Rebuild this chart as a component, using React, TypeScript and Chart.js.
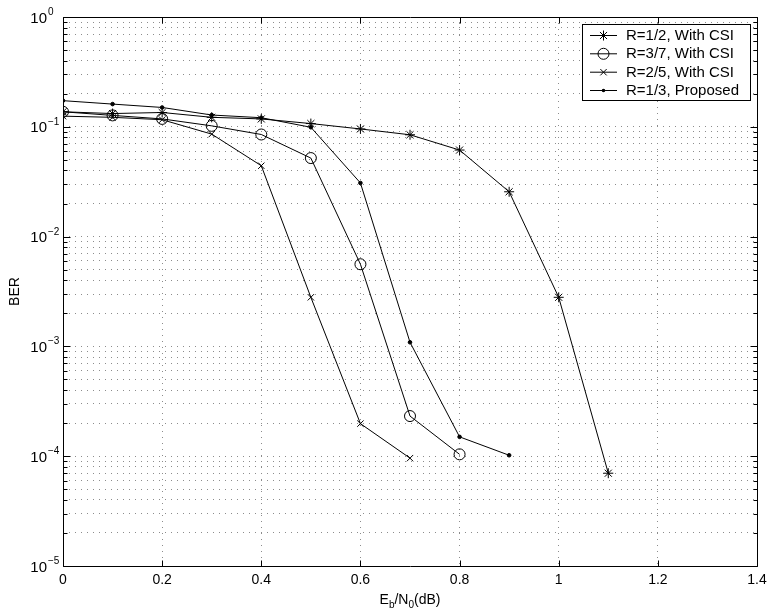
import React, { useEffect, useRef } from 'react';
import { Chart, registerables } from 'chart.js';

Chart.register(...registerables);

// ---- data ----
const snrR12 = [0, 0.1, 0.2, 0.3, 0.4, 0.5, 0.6, 0.7, 0.8, 0.9, 1.0, 1.1];
const berR12 = [0.137, 0.132, 0.135, 0.122, 0.118, 0.107, 0.0956, 0.0846, 0.0614, 0.0256, 0.0028, 0.00007];

const snrR37 = [0, 0.1, 0.2, 0.3, 0.4, 0.5, 0.6, 0.7, 0.8];
const berR37 = [0.137, 0.127, 0.118, 0.102, 0.0851, 0.0519, 0.0056, 0.000232, 0.000104];

const snrR25 = [0, 0.1, 0.2, 0.3, 0.4, 0.5, 0.6, 0.7];
const berR25 = [0.125, 0.122, 0.116, 0.0858, 0.0442, 0.0028, 0.000198, 0.000096];

const snrProp = [0, 0.1, 0.2, 0.3, 0.4, 0.5, 0.6, 0.7, 0.8, 0.9];
const berProp = [0.173, 0.161, 0.15, 0.128, 0.121, 0.099, 0.0308, 0.00109, 0.00015, 0.000102];

const xTickValues = [0, 0.2, 0.4, 0.6, 0.8, 1, 1.2, 1.4];
const xTickLabels = ['0', '0.2', '0.4', '0.6', '0.8', '1', '1.2', '1.4'];
const yDecades = [-5, -4, -3, -2, -1, 0];
const legendLabels = ['R=1/2, With CSI', 'R=3/7, With CSI', 'R=2/5, With CSI', 'R=1/3, Proposed'];
const legendStyles = ['star', 'circle', 'crossRot', 'dot'];
const yTitle = 'BER';

const FONT = "'Liberation Sans', Arial, Helvetica, sans-serif";

function yTickValues(): number[] {
  const out: number[] = [];
  for (const e of yDecades) {
    for (let m = 1; m <= 9; m++) {
      if (e === 0 && m > 1) break;
      out.push(m * Math.pow(10, e));
    }
  }
  return out;
}

function drawMarker(ctx: CanvasRenderingContext2D, style: string, x: number, y: number) {
  ctx.beginPath();
  if (style === 'star') {
    const r = 5;
    const d = r * Math.SQRT1_2;
    ctx.moveTo(x - r, y); ctx.lineTo(x + r, y);
    ctx.moveTo(x, y - r); ctx.lineTo(x, y + r);
    ctx.moveTo(x - d, y - d); ctx.lineTo(x + d, y + d);
    ctx.moveTo(x - d, y + d); ctx.lineTo(x + d, y - d);
    ctx.stroke();
  } else if (style === 'circle') {
    ctx.arc(x, y, 5.5, 0, Math.PI * 2);
    ctx.stroke();
  } else if (style === 'crossRot') {
    const d = 4.5 * Math.SQRT1_2;
    ctx.moveTo(x - d, y - d); ctx.lineTo(x + d, y + d);
    ctx.moveTo(x - d, y + d); ctx.lineTo(x + d, y - d);
    ctx.stroke();
  } else {
    ctx.arc(x, y, 1.8, 0, Math.PI * 2);
    ctx.fill();
  }
}

const matlabPlugin = {
  id: 'matlabFrame',
  afterDraw(chart: any) {
    const ctx: CanvasRenderingContext2D = chart.ctx;
    const { left, right, top, bottom } = chart.chartArea;
    const xs = chart.scales.x;
    const ys = chart.scales.y;
    ctx.save();
    ctx.strokeStyle = '#000';
    ctx.fillStyle = '#000';
    ctx.lineWidth = 1;

    // box
    const L = left + 0.5, R = right + 0.5, T = top + 0.5, B = bottom + 0.5;
    ctx.beginPath();
    ctx.rect(L, T, R - L, B - T);
    ctx.stroke();

    // inward ticks
    ctx.beginPath();
    for (const v of xTickValues) {
      const px = Math.round(xs.getPixelForValue(v)) + 0.5;
      ctx.moveTo(px, B); ctx.lineTo(px, B - 6);
      ctx.moveTo(px, T); ctx.lineTo(px, T + 6);
    }
    for (const e of yDecades) {
      for (let m = 1; m <= 9; m++) {
        if (e === 0 && m > 1) break;
        const py = Math.round(ys.getPixelForValue(m * Math.pow(10, e))) + 0.5;
        const len = m === 1 ? 7 : 4;
        ctx.moveTo(L, py); ctx.lineTo(L + len, py);
        ctx.moveTo(R, py); ctx.lineTo(R - len, py);
      }
    }
    ctx.stroke();

    // x tick labels
    ctx.font = `14px ${FONT}`;
    ctx.textAlign = 'center';
    ctx.textBaseline = 'alphabetic';
    xTickValues.forEach((v, i) => {
      ctx.fillText(xTickLabels[i], xs.getPixelForValue(v), bottom + 18);
    });

    // y tick labels 10^e
    for (const e of yDecades) {
      const py = ys.getPixelForValue(Math.pow(10, e));
      ctx.font = `15px ${FONT}`;
      ctx.textAlign = 'right';
      ctx.fillText('10', 47, py + 5.5);
      ctx.font = `10px ${FONT}`;
      ctx.textAlign = 'left';
      ctx.fillText(e === 0 ? '0' : '\u2212' + String(-e), 48, py - 2);
    }

    // y title
    ctx.save();
    ctx.translate(19, (top + bottom) / 2);
    ctx.rotate(-Math.PI / 2);
    ctx.font = `14px ${FONT}`;
    ctx.textAlign = 'center';
    ctx.fillText(yTitle, 0, 0);
    ctx.restore();

    // x title E_b/N_0(dB)
    const parts: [string, number, number][] = [
      ['E', 14, 0], ['b', 10, 4], ['/N', 14, 0], ['0', 10, 4], ['(dB)', 14, 0],
    ];
    let total = 0;
    for (const [t, s] of parts) { ctx.font = `${s}px ${FONT}`; total += ctx.measureText(t).width; }
    let cx = (left + right) / 2 - total / 2;
    ctx.textAlign = 'left';
    for (const [t, s, dy] of parts) {
      ctx.font = `${s}px ${FONT}`;
      ctx.fillText(t, cx, 604 + dy);
      cx += ctx.measureText(t).width;
    }

    // legend
    const bx = 582.5, by = 24.5, bw = 168, bh = 76;
    ctx.fillStyle = '#fff';
    ctx.fillRect(bx, by, bw, bh);
    ctx.strokeStyle = '#000';
    ctx.strokeRect(bx, by, bw, bh);
    ctx.fillStyle = '#000';
    const rows = [35, 53.3, 71.7, 90];
    legendLabels.forEach((lab, i) => {
      const ry = rows[i];
      ctx.beginPath();
      ctx.moveTo(590, ry + 0.5); ctx.lineTo(617, ry + 0.5);
      ctx.stroke();
      drawMarker(ctx, legendStyles[i], 603.5, ry + 0.5);
      ctx.font = `15px ${FONT}`;
      ctx.textAlign = 'left';
      ctx.textBaseline = 'middle';
      ctx.fillText(lab, 626, ry + 1);
      ctx.textBaseline = 'alphabetic';
    });

    ctx.restore();
  },
};

function toPoints(xs: number[], ys: number[]) {
  return xs.map((x, i) => ({ x, y: ys[i] }));
}

export default function App() {
  const canvasRef = useRef<HTMLCanvasElement | null>(null);

  useEffect(() => {
    const canvas = canvasRef.current;
    if (!canvas) return;
    const base = {
      borderColor: '#000',
      borderWidth: 1,
      pointBorderColor: '#000',
      pointBorderWidth: 1,
      tension: 0,
      fill: false,
    };
    const chart = new Chart(canvas, {
      type: 'line',
      data: {
        datasets: [
          { ...base, label: legendLabels[0], data: toPoints(snrR12, berR12), pointStyle: 'star', pointRadius: 5, pointBackgroundColor: 'rgba(0,0,0,0)' },
          { ...base, label: legendLabels[1], data: toPoints(snrR37, berR37), pointStyle: 'circle', pointRadius: 5.5, pointBackgroundColor: 'rgba(0,0,0,0)' },
          { ...base, label: legendLabels[2], data: toPoints(snrR25, berR25), pointStyle: 'crossRot', pointRadius: 4.5, pointBackgroundColor: 'rgba(0,0,0,0)' },
          { ...base, label: legendLabels[3], data: toPoints(snrProp, berProp), pointStyle: 'circle', pointRadius: 1.8, pointBackgroundColor: '#000' },
        ],
      } as any,
      options: {
        responsive: false,
        animation: false,
        devicePixelRatio: 1,
        layout: { padding: { left: 0, right: 15, top: 17, bottom: 0 } },
        plugins: { legend: { display: false }, tooltip: { enabled: false } },
        elements: { point: { hoverRadius: 0 } },
        scales: {
          x: {
            type: 'linear',
            min: 0,
            max: 1.4,
            afterBuildTicks: (scale: any) => { scale.ticks = xTickValues.map((v) => ({ value: v })); },
            afterFit: (scale: any) => { scale.height = 46; },
            ticks: { display: false },
            grid: { color: '#8c8c8c', lineWidth: 1, drawTicks: false },
            border: { display: false, dash: [1, 5] },
          },
          y: {
            type: 'logarithmic',
            min: 1e-5,
            max: 1,
            afterBuildTicks: (scale: any) => { scale.ticks = yTickValues().map((v) => ({ value: v })); },
            afterFit: (scale: any) => { scale.width = 63; },
            ticks: { display: false },
            grid: { color: '#8c8c8c', lineWidth: 1, drawTicks: false },
            border: { display: false, dash: [1, 5] },
          },
        },
      } as any,
      plugins: [matlabPlugin as any],
    });
    return () => chart.destroy();
  }, []);

  return (
    <div style={{ position: 'fixed', left: 0, top: 0, width: 772, height: 612, background: '#fff' }}>
      <canvas ref={canvasRef} width={772} height={612} style={{ display: 'block', width: 772, height: 612 }} />
    </div>
  );
}
